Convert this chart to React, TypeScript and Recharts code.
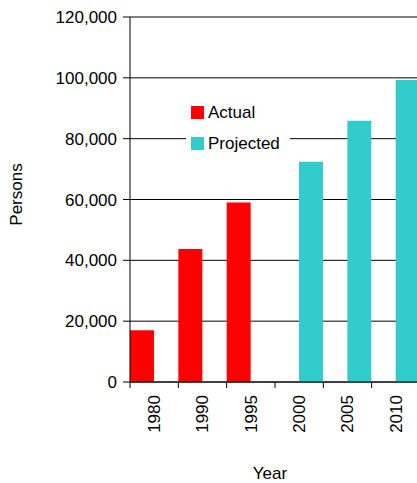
import { BarChart, Bar, XAxis, YAxis, CartesianGrid, Legend, Label } from "recharts"

const years = ["1980", "1990", "1995", "2000", "2005", "2010"]
const actual = [17000, 43700, 59000, null, null, null]
const projected = [null, null, null, 72400, 85900, 99300]
const yTicks = [0, 20000, 40000, 60000, 80000, 100000, 120000]

const data = years.map((year, i) => ({ year, actual: actual[i], projected: projected[i] }))

const font = "'Liberation Sans', Arial, sans-serif"
const RED = "#FF0000"
const CYAN = "#33CCCC"

function YearTick(props: any) {
  const { x, y, payload, width } = props
  const half = payload.offset ?? width / years.length / 2
  const tx = x
  const ty = y + 13
  return (
    <g>
      <line x1={x - half} y1={y} x2={x - half} y2={y + 6} stroke="#000" />
      <text
        x={tx}
        y={ty}
        dy="0.35em"
        textAnchor="end"
        transform={`rotate(-90, ${tx}, ${ty})`}
        fontSize={17}
        fontFamily={font}
        fill="#000"
      >
        {payload.value}
      </text>
    </g>
  )
}

function LegendBox() {
  const rows = [
    { name: "Actual", color: RED },
    { name: "Projected", color: CYAN },
  ]
  return (
    <div style={{ background: "#fff", width: 104, height: 58, paddingTop: 1, boxSizing: "border-box" }}>
      {rows.map((r) => (
        <div key={r.name} style={{ display: "flex", alignItems: "center", height: 29, marginBottom: 2, paddingLeft: 5 }}>
          <span style={{ width: 13, height: 13, background: r.color, display: "inline-block", marginRight: 4 }} />
          <span style={{ fontFamily: font, fontSize: 17, color: "#000" }}>{r.name}</span>
        </div>
      ))}
    </div>
  )
}

export default function App() {
  return (
    <div style={{ position: "fixed", left: 0, top: 0, width: 417, height: 483, overflow: "hidden", background: "#fff" }}>
      <BarChart
        width={430}
        height={483}
        data={data}
        margin={{ top: 17, right: 10, left: 0, bottom: 0 }}
        barCategoryGap={0}
        barGap={0}
      >
        <CartesianGrid vertical={false} stroke="#000" />
        <XAxis
          dataKey="year"
          interval={0}
          height={101}
          tickSize={0}
          tickMargin={0}
          tickLine={false}
          axisLine={{ stroke: "#000" }}
          tick={<YearTick />}
        >
          <Label
            content={(p: any) => {
              const vb = p.viewBox
              return (
                <text x={vb.x + vb.width / 2 - 5} y={479} textAnchor="middle" fontSize={17} fontFamily={font} fill="#000">
                  Year
                </text>
              )
            }}
          />
        </XAxis>
        <YAxis
          width={130}
          domain={[0, 120000]}
          ticks={yTicks}
          interval={0}
          tickSize={7}
          tickMargin={6}
          tickFormatter={(v: number) => v.toLocaleString("en-US")}
          tick={{ fontSize: 17, fontFamily: font, fill: "#000" }}
          axisLine={{ stroke: "#000" }}
          tickLine={{ stroke: "#000" }}
        >
          <Label
            content={(p: any) => {
              const vb = p.viewBox
              const cx = vb.x + 16
              const cy = vb.y + vb.height / 2 - 5
              return (
                <text
                  x={cx}
                  y={cy}
                  dy="0.35em"
                  textAnchor="middle"
                  transform={`rotate(-90, ${cx}, ${cy})`}
                  fontSize={17}
                  fontFamily={font}
                  fill="#000"
                >
                  Persons
                </text>
              )
            }}
          />
        </YAxis>
        <Legend
          layout="vertical"
          align="center"
          verticalAlign="middle"
          content={<LegendBox />}
          wrapperStyle={{ position: "absolute", left: 186, top: 97, width: 104 }}
        />
        <Bar dataKey="actual" name="Actual" fill={RED} isAnimationActive={false} />
        <Bar dataKey="projected" name="Projected" fill={CYAN} isAnimationActive={false} />
      </BarChart>
    </div>
  )
}
